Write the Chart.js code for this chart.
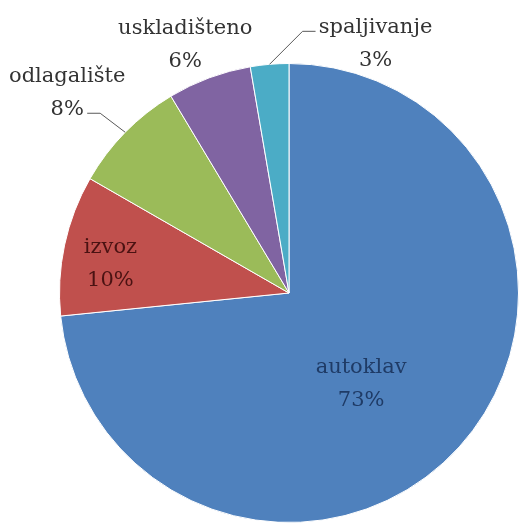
<!DOCTYPE html>
<html>
<head>
<meta charset="utf-8">
<script src="https://cdn.jsdelivr.net/npm/chart.js@4/dist/chart.umd.min.js"></script>
<style>
  html, body { margin: 0; padding: 0; background: #fff; }
  #wrap { width: 520px; height: 523px; }
</style>
</head>
<body>
<div id="wrap"><canvas id="pieChart" width="520" height="523"></canvas></div>
<script>
/* ============================================================
   DATI
============================================================ */
const categories = ["autoklav", "izvoz", "odlagalište", "uskladišteno", "spaljivanje"];
const shares = [73.4, 9.9, 8.1, 5.9, 2.7];
const sliceColors = ["#4f81bd", "#c0504d", "#9bbb59", "#8064a2", "#4bacc6"];
const labelColors = ["#1f3b66", "#4a1212", "#333333", "#333333", "#333333"];

/* ============================================================
   ETICHETTE — posizionate rispetto al centro di ogni fetta
============================================================ */
// rf = frazione del raggio, dx/dy = spostamento della prima riga
const labelSpec = [
    { rf: 0.5, dx: -13, dy: 3 },
    { rf: 0.8, dx: 1, dy: -2 },
    { rf: 1.0, dx: -58, dy: -50, leader: [[-25, -19], [-38, -19]] },
    { rf: 1.0, dx: -24, dy: -44 },
    { rf: 1.0, dx: 106, dy: -31, leader: [[33, -33], [46, -33]] }
];

const pieLabels = {
    id: "pieLabels",
    afterDatasetsDraw(chart) {
        const ctx = chart.ctx;
        const meta = chart.getDatasetMeta(0);
        const total = shares.reduce((a, b) => a + b, 0);

        ctx.save();
        ctx.font = '21px "DejaVu Serif"';
        ctx.textAlign = "center";
        ctx.textBaseline = "alphabetic";

        meta.data.forEach((arc, i) => {
            const spec = labelSpec[i];
            const mid = (arc.startAngle + arc.endAngle) / 2;
            const px = arc.x + Math.cos(mid) * arc.outerRadius * spec.rf;
            const py = arc.y + Math.sin(mid) * arc.outerRadius * spec.rf;

            if (spec.leader) {
                ctx.strokeStyle = "#595959";
                ctx.lineWidth = 1;
                ctx.beginPath();
                ctx.moveTo(px, py);
                spec.leader.forEach(p => ctx.lineTo(px + p[0], py + p[1]));
                ctx.stroke();
            }

            const pct = Math.round(shares[i] / total * 100) + "%";
            ctx.fillStyle = labelColors[i];
            ctx.fillText(categories[i], px + spec.dx, py + spec.dy);
            ctx.fillText(pct, px + spec.dx, py + spec.dy + 33);
        });
        ctx.restore();
    }
};

/* ============================================================
   GRAFICO A TORTA — Chart.js
============================================================ */
function initPieChart() {
    const el = document.getElementById("pieChart");
    if (!el) return;

    new Chart(el, {
        type: "pie",
        data: {
            labels: categories,
            datasets: [{
                data: shares,
                backgroundColor: sliceColors,
                borderColor: "#ffffff",
                borderWidth: 1
            }]
        },
        options: {
            responsive: false,
            animation: false,
            layout: { padding: { left: 59, right: 1, top: 63, bottom: 0 } },
            plugins: {
                legend: { display: false },
                tooltip: { enabled: false }
            }
        },
        plugins: [pieLabels]
    });
}
initPieChart();
</script>
</body>
</html>
